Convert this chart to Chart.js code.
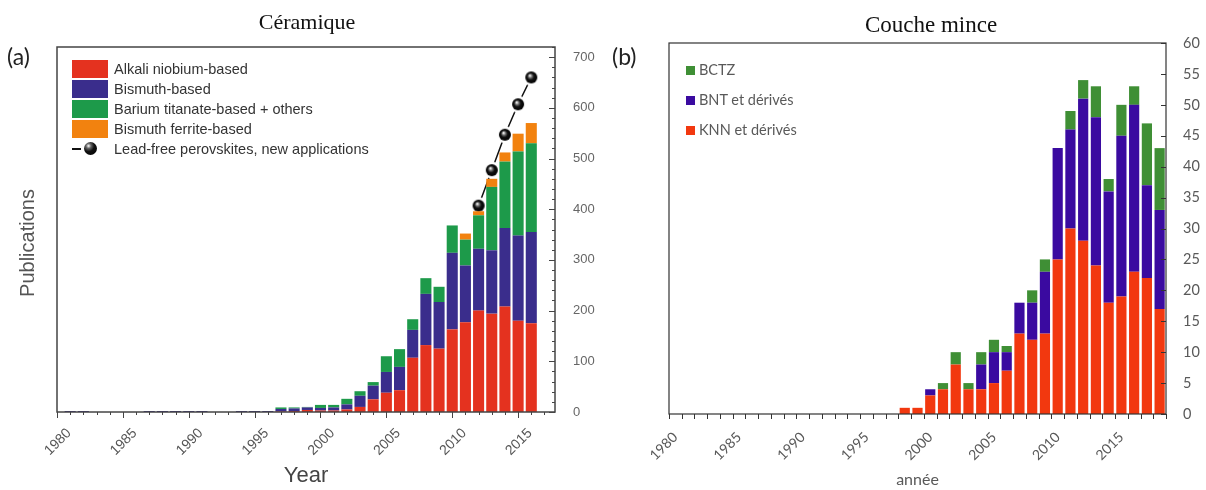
<!DOCTYPE html>
<html>
<head>
<meta charset="utf-8">
<script src="https://cdn.jsdelivr.net/npm/chart.js@4.4.1/dist/chart.umd.min.js"></script>
<style>
html, body { margin: 0; padding: 0; overflow: hidden; background: #fff; }
#page { position: relative; width: 1206px; height: 490px; overflow: hidden; background: #fff; }
#page canvas { position: absolute; top: 0; }
.tag { position: absolute; font-family: Lato, "Noto Sans", sans-serif; font-size: 23px; color: #222; }
#ytitle { position: absolute; left: 27px; top: 243px; transform: translate(-50%, -50%) rotate(-90deg);
  font-family: "Liberation Sans", Arial, sans-serif; font-size: 20px; color: #555; white-space: nowrap; }
#legA { position: absolute; left: 72px; top: 60px; font-family: "Liberation Sans", Arial, sans-serif;
  font-size: 14.5px; color: #333; }
#legA div { height: 20px; line-height: 18px; white-space: nowrap; }
#legA span.box { display: inline-block; width: 36px; height: 18px; vertical-align: top; margin-right: 6px; }
#legA span.ln { display: inline-block; width: 36px; height: 18px; vertical-align: top; margin-right: 6px; position: relative; }
#legB { position: absolute; left: 686px; top: 61px; font-family: Lato, "Noto Sans", sans-serif;
  font-size: 14.5px; color: #595959; }
#legB div { height: 30px; line-height: 18px; white-space: nowrap; }
#legB span.sq { display: inline-block; width: 9px; height: 9px; margin-right: 4px; vertical-align: 0px; }
</style>
</head>
<body>
<div id="page">
  <canvas id="chartA" width="614" height="490" style="left:0px"></canvas>
  <canvas id="chartB" width="602" height="490" style="left:630px"></canvas>
  <div class="tag" style="left:7px;top:42px">(a)</div>
  <div class="tag" style="left:612px;top:42px">(b)</div>
  <div id="ytitle">Publications</div>
  <div id="legA"></div>
  <div id="legB"></div>
</div>
<script>
// panel (a) - céramique
const yearsA = [1980, 1981, 1982, 1983, 1984, 1985, 1986, 1987, 1988, 1989, 1990, 1991, 1992,
  1993, 1994, 1995, 1996, 1997, 1998, 1999, 2000, 2001, 2002, 2003, 2004, 2005, 2006, 2007,
  2008, 2009, 2010, 2011, 2012, 2013, 2014, 2015, 2016];
const alkali = [0, 0, 0, 0, 0, 0, 0, 0, 0, 0, 0, 0, 0, 0, 0, 0, 0,
  1, 2, 4, 3, 3, 5, 10, 25, 38, 43, 107, 132, 125, 163, 177, 200, 194, 208, 180, 175];
const bismuth = [0, 2, 2, 0, 0, 0, 0, 2, 2, 2, 2, 2, 0, 0, 2, 2, 2,
  5, 5, 5, 5, 6, 10, 22, 27, 41, 46, 55, 101, 92, 151, 112, 122, 125, 155, 168, 180];
const barium = [0, 0, 0, 0, 0, 0, 0, 0, 0, 0, 0, 0, 0, 0, 0, 0, 0,
  3, 2, 1, 6, 5, 11, 9, 7, 31, 35, 21, 31, 30, 54, 51, 66, 125, 131, 166, 175];
const ferrite = [0, 0, 0, 0, 0, 0, 0, 0, 0, 0, 0, 0, 0, 0, 0, 0, 0,
  0, 0, 0, 0, 0, 0, 0, 0, 0, 0, 0, 0, 0, 0, 12, 8, 16, 18, 35, 40];
const leadFree = [null, null, null, null, null, null, null, null, null, null, null, null, null,
  null, null, null, null, null, null, null, null, null, null, null, null, null, null, null,
  null, null, null, null, 407, 477, 547, 607, 660];

// panel (b) - couche mince
const yearsB = [1980, 1981, 1982, 1983, 1984, 1985, 1986, 1987, 1988, 1989, 1990, 1991, 1992,
  1993, 1994, 1995, 1996, 1997, 1998, 1999, 2000, 2001, 2002, 2003, 2004, 2005, 2006, 2007,
  2008, 2009, 2010, 2011, 2012, 2013, 2014, 2015, 2016, 2017, 2018];
const knn = [0, 0, 0, 0, 0, 0, 0, 0, 0, 0, 0, 0, 0, 0, 0, 0, 0, 0,
  1, 1, 3, 4, 8, 4, 4, 5, 7, 13, 12, 13, 25, 30, 28, 24, 18, 19, 23, 22, 17];
const bnt = [0, 0, 0, 0, 0, 0, 0, 0, 0, 0, 0, 0, 0, 0, 0, 0, 0, 0,
  0, 0, 1, 0, 0, 0, 4, 5, 3, 5, 6, 10, 18, 16, 23, 24, 18, 26, 27, 15, 16];
const bctz = [0, 0, 0, 0, 0, 0, 0, 0, 0, 0, 0, 0, 0, 0, 0, 0, 0, 0,
  0, 0, 0, 1, 2, 1, 2, 2, 1, 0, 2, 2, 0, 3, 3, 5, 2, 5, 3, 10, 10];

const colA = { red: "#E4321F", blue: "#3A2D8C", green: "#1D9A4A", orange: "#F2820F" };
const colB = { red: "#F2380F", blue: "#3A0AA0", green: "#3F8F35" };

// frame round the plot + small tick marks, placed with the chart scales
const axisMarks = {
  id: "axisMarks",
  afterDatasetsDraw(chart, args, o) {
    const { ctx, chartArea: a } = chart;
    const sx = chart.scales.x, sy = chart.scales.y;
    ctx.save();
    ctx.strokeStyle = o.color;
    ctx.lineWidth = 1;
    ctx.beginPath();
    o.xMarks.forEach(m => {
      const px = Math.round(sx.getPixelForValue(m.at)) + 0.5;
      ctx.moveTo(px, a.bottom);
      ctx.lineTo(px, a.bottom + m.len);
    });
    o.yMarks.forEach(m => {
      const py = Math.round(sy.getPixelForValue(m.at)) + 0.5;
      ctx.moveTo(a.right, py);
      ctx.lineTo(a.right - m.len, py);
    });
    ctx.stroke();
    ctx.lineWidth = o.width;
    ctx.strokeRect(a.left, a.top, a.right - a.left, a.bottom - a.top);
    ctx.restore();
  }
};

// black ball marker, with a white halo that cuts the line near it
function ball() {
  const c = document.createElement("canvas");
  c.width = c.height = 18;
  const g = c.getContext("2d");
  g.fillStyle = "#fff";
  g.beginPath(); g.arc(9, 9, 8.5, 0, Math.PI * 2); g.fill();
  const gr = g.createRadialGradient(7.5, 7, 0.3, 9, 9, 6);
  gr.addColorStop(0, "#fff");
  gr.addColorStop(0.3, "#666");
  gr.addColorStop(0.55, "#111");
  gr.addColorStop(1, "#000");
  g.fillStyle = gr;
  g.beginPath(); g.arc(9, 9, 6, 0, Math.PI * 2); g.fill();
  return c;
}

const pts = arr => yearsA.map((yr, i) => ({ x: yr, y: arr[i] })).filter(p => p.y !== null);

const marksAx = [];
for (let yr = 1980; yr <= 2017; yr++) marksAx.push({ at: yr, len: yr % 5 === 0 ? 6 : 3 });
const marksAy = [];
for (let v = 0; v <= 720; v += 20) marksAy.push({ at: v, len: v % 100 === 0 ? 6 : 3 });

const barA = { borderWidth: 0, barPercentage: 1, categoryPercentage: 0.84 };

// empty left axis, only keeps room left of the plot (so the title stays centred)
const spacer = w => ({
  position: "left", display: true, grid: { display: false }, border: { display: false },
  ticks: { display: false }, afterFit: s => { s.width = w; }
});

new Chart(document.getElementById("chartA"), {
  type: "bar",
  data: {
    datasets: [
      { label: "Alkali niobium-based", data: pts(alkali), backgroundColor: colA.red, ...barA },
      { label: "Bismuth-based", data: pts(bismuth), backgroundColor: colA.blue, ...barA },
      { label: "Barium titanate-based + others", data: pts(barium), backgroundColor: colA.green, ...barA },
      { label: "Bismuth ferrite-based", data: pts(ferrite), backgroundColor: colA.orange, ...barA },
      { type: "line", label: "Lead-free perovskites, new applications", data: pts(leadFree),
        borderColor: "#111", borderWidth: 1.5, pointStyle: ball(), pointRadius: 6 }
    ]
  },
  options: {
    responsive: false,
    animation: false,
    layout: { padding: 0 },
    plugins: {
      legend: { display: false },
      tooltip: { enabled: false },
      title: { display: true, text: "Céramique", color: "#111",
        font: { family: "'Liberation Serif', 'Times New Roman', serif", size: 22, weight: "normal" },
        padding: { top: 10, bottom: 10.6 } },
      axisMarks: { color: "#444", width: 1.5, xMarks: marksAx, yMarks: marksAy }
    },
    scales: {
      x: {
        type: "linear", stacked: true, min: 1980, max: 2017.8, offset: false,
        grid: { display: false }, border: { display: false },
        ticks: { stepSize: 5, includeBounds: false, minRotation: 45, maxRotation: 45, padding: 5,
          labelOffset: 12, color: "#555", font: { family: "'Liberation Sans', Arial, sans-serif", size: 14 },
          callback: v => String(v) },
        title: { display: true, text: "Year", color: "#444", padding: { top: 0, bottom: 1 },
          font: { family: "'Liberation Sans', Arial, sans-serif", size: 22 } },
        afterFit: s => { s.height = 78; s.paddingLeft = 0; s.paddingRight = 0; }
      },
      y: {
        position: "right", stacked: true, min: 0, max: 720,
        grid: { display: false }, border: { display: false },
        ticks: { stepSize: 100, includeBounds: false, padding: 10, color: "#666",
          font: { family: "'Liberation Sans', Arial, sans-serif", size: 13 },
          callback: v => String(v) },
        afterFit: s => { s.width = 59; }
      },
      room: spacer(57)
    }
  },
  plugins: [axisMarks]
});

const marksBx = [];
for (let i = 0; i <= yearsB.length; i++) marksBx.push({ at: i - 0.5, len: 5 });
const marksBy = [];
for (let v = 0; v <= 60; v += 5) marksBy.push({ at: v, len: 5 });

const barB = { borderWidth: 0, barPercentage: 1, categoryPercentage: 0.8 };

new Chart(document.getElementById("chartB"), {
  type: "bar",
  data: {
    labels: yearsB.map(String),
    datasets: [
      { label: "KNN et dérivés", data: knn, backgroundColor: colB.red, ...barB },
      { label: "BNT et dérivés", data: bnt, backgroundColor: colB.blue, ...barB },
      { label: "BCTZ", data: bctz, backgroundColor: colB.green, ...barB }
    ]
  },
  options: {
    responsive: false,
    animation: false,
    layout: { padding: 0 },
    plugins: {
      legend: { display: false },
      tooltip: { enabled: false },
      title: { display: true, text: "Couche mince", color: "#111",
        font: { family: "'Liberation Serif', 'Times New Roman', serif", size: 23, weight: "normal" },
        padding: { top: 12, bottom: 3.4 } },
      axisMarks: { color: "#333", width: 1.2, xMarks: marksBx, yMarks: marksBy }
    },
    scales: {
      x: {
        stacked: true,
        grid: { display: false }, border: { display: false },
        ticks: { autoSkip: false, minRotation: 45, maxRotation: 45, padding: 7, color: "#595959",
          font: { family: "Lato, 'Noto Sans', sans-serif", size: 14 },
          callback: function (v) { const l = this.getLabelForValue(v); return Number(l) % 5 === 0 ? l : ""; } },
        title: { display: true, text: "année", color: "#595959", padding: { top: 0, bottom: 1 },
          font: { family: "Lato, 'Noto Sans', sans-serif", size: 16 } },
        afterFit: s => { s.height = 76; s.paddingLeft = 0; s.paddingRight = 0; }
      },
      y: {
        position: "right", stacked: true, min: 0, max: 60,
        grid: { display: false }, border: { display: false },
        ticks: { stepSize: 5, padding: 9, color: "#595959",
          font: { family: "Lato, 'Noto Sans', sans-serif", size: 14.5 } },
        afterFit: s => { s.width = 66; }
      },
      room: spacer(39)
    }
  },
  plugins: [axisMarks]
});

// legends (inside the plot areas)
const legA = document.getElementById("legA");
[["Alkali niobium-based", colA.red], ["Bismuth-based", colA.blue],
 ["Barium titanate-based + others", colA.green], ["Bismuth ferrite-based", colA.orange]].forEach(([t, c]) => {
  legA.insertAdjacentHTML("beforeend", `<div><span class="box" style="background:${c}"></span>${t}</div>`);
});
legA.insertAdjacentHTML("beforeend",
  `<div><span class="ln"><span style="position:absolute;left:0;top:8px;width:9px;height:2px;background:#111"></span>` +
  `<span style="position:absolute;left:12px;top:2px;width:13px;height:13px;border-radius:50%;` +
  `background:radial-gradient(circle at 35% 30%, #fff 0, #666 20%, #111 45%, #000 100%)"></span></span>` +
  `Lead-free perovskites, new applications</div>`);

const legB = document.getElementById("legB");
[["BCTZ", colB.green], ["BNT et dérivés", colB.blue], ["KNN et dérivés", colB.red]].forEach(([t, c]) => {
  legB.insertAdjacentHTML("beforeend", `<div><span class="sq" style="background:${c}"></span>${t}</div>`);
});
</script>
</body>
</html>
